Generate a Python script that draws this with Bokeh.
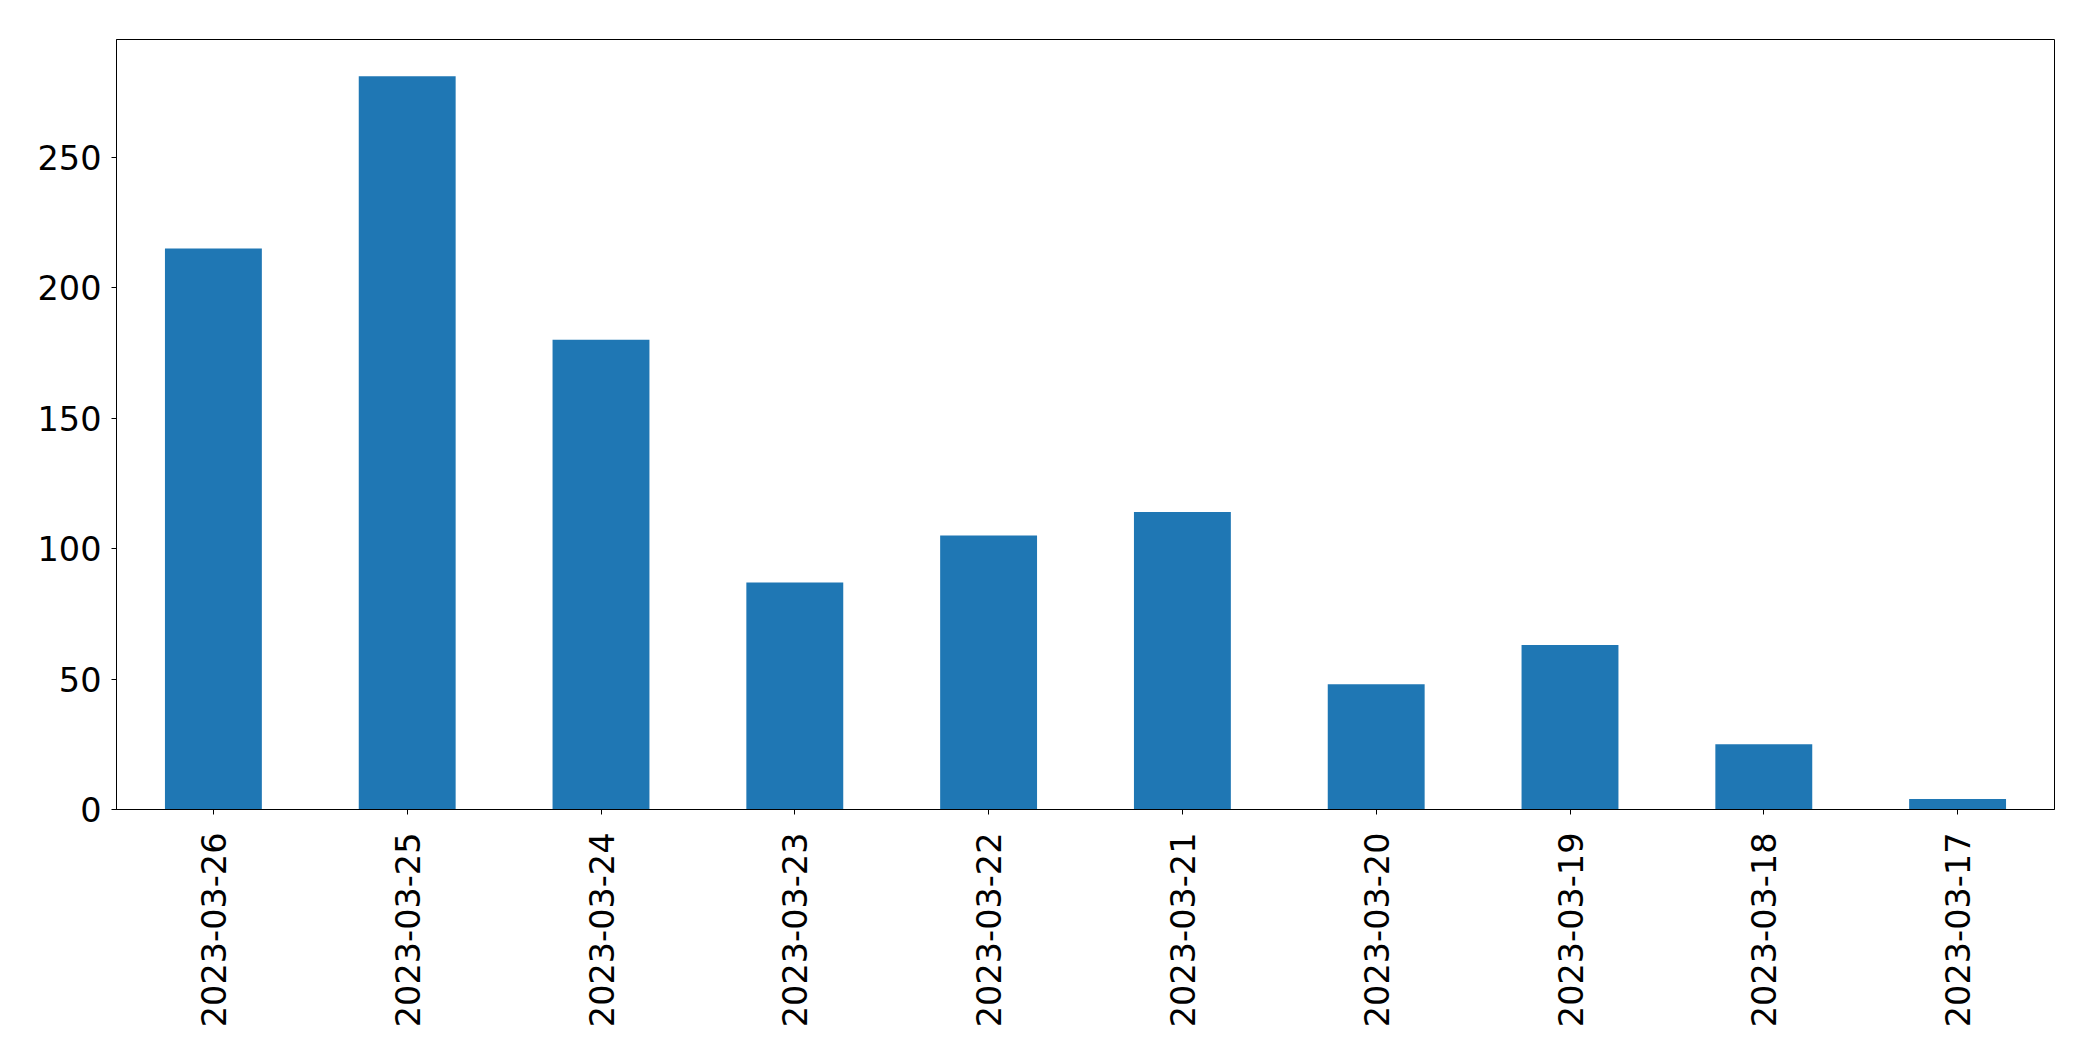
from bokeh.plotting import figure
from bokeh.models import FactorRange, Range1d, FixedTicker, ColumnDataSource
from bokeh.embed import file_html
from bokeh.resources import INLINE
import math

dates = ["2023-03-26", "2023-03-25", "2023-03-24", "2023-03-23", "2023-03-22",
         "2023-03-21", "2023-03-20", "2023-03-19", "2023-03-18", "2023-03-17"]
counts = [215, 281, 180, 87, 105, 114, 48, 63, 25, 4]
y_ticks = [0, 50, 100, 150, 200, 250]

src = ColumnDataSource(data=dict(x=dates, top=counts))

p = figure(width=2093, height=1061, output_backend="svg", toolbar_location=None,
           x_range=FactorRange(factors=dates, range_padding=0),
           y_range=Range1d(0, max(counts) * 1.05))
p.min_border_left = 116
p.min_border_right = 39
p.min_border_top = 39
p.min_border_bottom = 252
p.outline_line_color = "black"
p.outline_line_width = 1
p.outline_line_alpha = 1
p.background_fill_color = "white"
p.border_fill_color = "white"

p.vbar(x="x", top="top", width=0.5, bottom=0, source=src,
       fill_color="#1f77b4", line_color=None)

p.xgrid.visible = False
p.ygrid.visible = False

for ax in (p.xaxis[0], p.yaxis[0]):
    ax.axis_line_color = "black"
    ax.major_tick_line_color = "black"
    ax.major_tick_out = 5
    ax.major_tick_in = 0
    ax.minor_tick_line_color = None
    ax.major_label_text_font = "DejaVu Sans"
    ax.major_label_text_font_size = "33.5px"
    ax.major_label_text_color = "black"

p.yaxis[0].ticker = FixedTicker(ticks=y_ticks)
p.yaxis[0].major_label_standoff = 10
p.xaxis[0].major_label_orientation = math.pi / 2
p.xaxis[0].major_label_standoff = 18

open("out.html", "w").write(file_html(p, INLINE))
